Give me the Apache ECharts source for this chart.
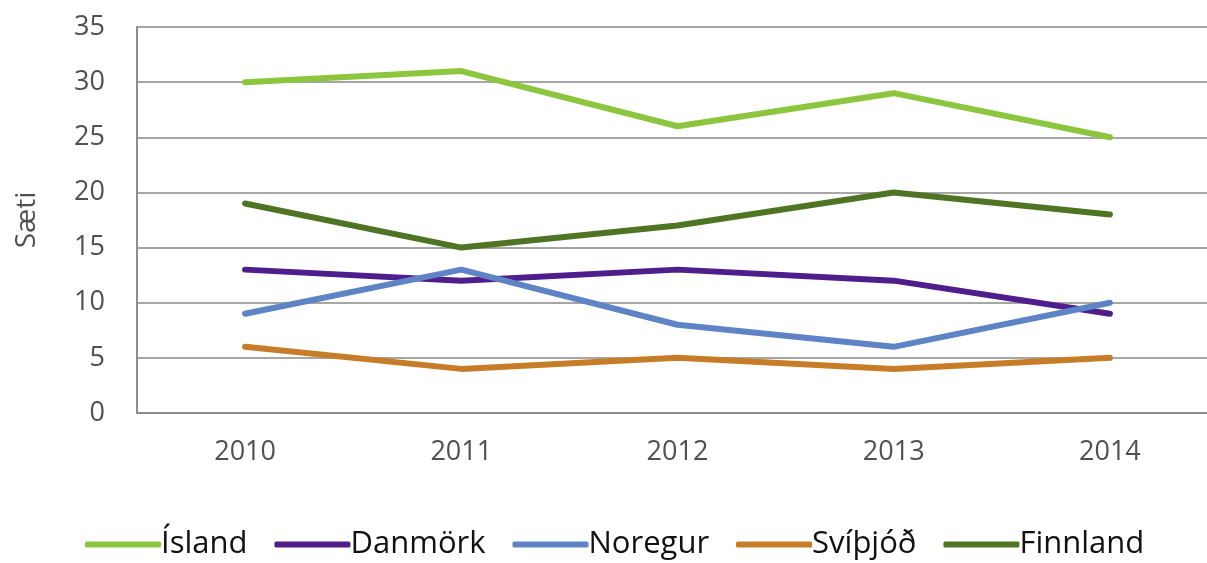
<!DOCTYPE html>
<html>
<head>
<meta charset="utf-8">
<script src="https://cdn.jsdelivr.net/npm/echarts@6/dist/echarts.min.js"></script>
<style>
  html, body { margin: 0; padding: 0; background: #fff; }
  #chart { width: 1207px; height: 563px; }
</style>
</head>
<body>
<div id="chart"></div>
<script>
// gögn
const years = ['2010', '2011', '2012', '2013', '2014'];
const island = [30, 31, 26, 29, 25];
const danmork = [13, 12, 13, 12, 9];
const noregur = [9, 13, 8, 6, 10];
const svithjod = [6, 4, 5, 4, 5];
const finnland = [19, 15, 17, 20, 18];

const names = ['Ísland', 'Danmörk', 'Noregur', 'Svíþjóð', 'Finnland'];
const colors = ['#8CC63E', '#4E1E8C', '#5E84C6', '#C77C27', '#4E7424'];
const values = [island, danmork, noregur, svithjod, finnland];

const chart = echarts.init(document.getElementById('chart'));

const option = {
    animation: false,
    textStyle: { fontFamily: 'Open Sans' },
    // myndin er skorin til hægri, svo plottsvæðið nær út fyrir brúnina
    grid: { left: 137, width: 1081, top: 27, height: 386, outerBoundsMode: 'none' },
    legend: {
        bottom: -2,
        left: 80,
        icon: 'roundRect',
        itemWidth: 76,
        itemHeight: 6,
        itemGap: 27,
        textStyle: { fontSize: 31, color: '#111', padding: [0, 0, 0, -5] },
        data: names
    },
    xAxis: {
        type: 'category',
        data: years,
        boundaryGap: true,
        axisLine: { lineStyle: { color: '#8c8c8c', width: 2 } },
        axisTick: { show: false },
        axisLabel: { fontSize: 27, color: '#505050', margin: 26 }
    },
    yAxis: {
        type: 'value',
        min: 0,
        max: 35,
        interval: 5,
        name: 'Sæti',
        nameLocation: 'middle',
        nameGap: 96,
        nameTextStyle: { fontSize: 28, color: '#505050' },
        axisLine: { show: true, lineStyle: { color: '#8c8c8c', width: 2 } },
        axisTick: { show: false },
        axisLabel: { fontSize: 27, color: '#505050', margin: 32 },
        splitLine: { lineStyle: { color: '#a6a6a6', width: 2 } }
    },
    series: names.map((n, i) => ({
        name: n,
        type: 'line',
        data: values[i],
        color: colors[i],
        symbol: 'none',
        lineStyle: { width: 6, cap: 'round', join: 'round' }
    }))
};

chart.setOption(option);
</script>
</body>
</html>
